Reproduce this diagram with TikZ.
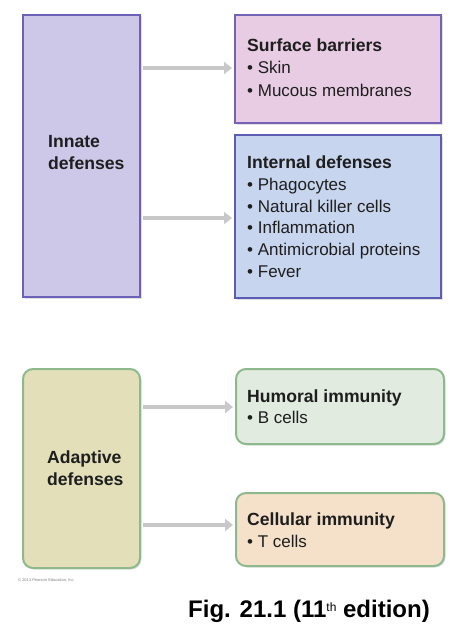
\documentclass[tikz,border=0pt]{standalone}
\usepackage{fontspec}
\setmainfont{Liberation Sans}
\usetikzlibrary{arrows.meta,shadows}
\definecolor{innfill}{HTML}{CDC8E8}
\definecolor{innline}{HTML}{6B62B8}
\definecolor{surffill}{HTML}{E8CCE4}
\definecolor{surfline}{HTML}{7463B4}
\definecolor{intfill}{HTML}{C8D5EE}
\definecolor{intline}{HTML}{5B5CB2}
\definecolor{adfill}{HTML}{E2DFB9}
\definecolor{adline}{HTML}{8DB98D}
\definecolor{humfill}{HTML}{E1EBE0}
\definecolor{celfill}{HTML}{F5E1C9}
\definecolor{arrgray}{HTML}{C8C8C8}
\definecolor{txt}{HTML}{1E1E1E}
\tikzset{
  box/.style={draw, line width=2pt, inner sep=0pt, anchor=north west,
    drop shadow={shadow xshift=1.5pt, shadow yshift=-1.5pt, opacity=.25}},
  rbox/.style={box, rounded corners=10pt},
  lbl/.style={anchor=base west, inner sep=0pt, font=\fontsize{17}{21}\selectfont, text=txt},
  ttl/.style={lbl, font=\fontsize{17.6}{21}\selectfont\bfseries},
  arr/.style={draw=arrgray, line width=4pt, -{Triangle[length=8pt,width=12pt]}}
}
\begin{document}
\begin{tikzpicture}[x=1pt,y=-1pt]
\useasboundingbox (0,0) rectangle (453,626);
% boxes
\node[box, fill=innfill, draw=innline, minimum width=117pt, minimum height=282pt] (innate) at (22,14) {};
\node[box, fill=surffill, draw=surfline, minimum width=206pt, minimum height=108pt] (surf) at (234,14) {};
\node[box, fill=intfill, draw=intline, minimum width=206pt, minimum height=163pt] (int) at (234,134) {};
\node[rbox, fill=adfill, draw=adline, minimum width=117pt, minimum height=199pt] (adapt) at (22,368) {};
\node[rbox, fill=humfill, draw=adline, minimum width=208pt, minimum height=75pt] (hum) at (235,368) {};
\node[rbox, fill=celfill, draw=adline, minimum width=208pt, minimum height=73pt] (cel) at (235,492) {};
% arrow levels
\coordinate (a1) at (0,68);
\coordinate (a2) at (0,218);
\coordinate (a3) at (0,407);
\coordinate (a4) at (0,525);
\draw[arr] ([xshift=2pt]innate.east |- a1) -- ([xshift=-2pt]surf.west |- a1);
\draw[arr] ([xshift=2pt]innate.east |- a2) -- ([xshift=-2pt]int.west |- a2);
\draw[arr] ([xshift=2pt]adapt.east |- a3) -- ([xshift=-2pt]hum.west |- a3);
\draw[arr] ([xshift=2pt]adapt.east |- a4) -- ([xshift=-2pt]cel.west |- a4);
% texts
\node[ttl] (t1) at (48,147) {Innate};
\node[ttl] (t2) at (48,169) {defenses};
\node[ttl] (t3) at (247,52) {Surface barriers};
\node[lbl] (t4) at (247,74) {\textbullet\ Skin};
\node[lbl] (t5) at (247,96) {\textbullet\ Mucous membranes};
\node[ttl] (t6) at (247,168) {Internal defenses};
\node[lbl] (t7) at (247,190) {\textbullet\ Phagocytes};
\node[lbl] (t8) at (247,212) {\textbullet\ Natural killer cells};
\node[lbl] (t9) at (247,233) {\textbullet\ Inflammation};
\node[lbl] (t10) at (247,255) {\textbullet\ Antimicrobial proteins};
\node[lbl] (t11) at (247,277) {\textbullet\ Fever};
\node[ttl] (t12) at (47,463) {Adaptive};
\node[ttl] (t13) at (47,485) {defenses};
\node[ttl] (t14) at (247,402) {Humoral immunity};
\node[lbl] (t15) at (247,423) {\textbullet\ B cells};
\node[ttl] (t16) at (247,525) {Cellular immunity};
\node[lbl] (t17) at (247,547) {\textbullet\ T cells};
\node[anchor=base west, inner sep=0pt, font=\fontsize{4}{5}\selectfont, text=gray] (copy) at (18,581) {\textcopyright\ 2013 Pearson Education, Inc.};
\node[anchor=base east, inner sep=0pt, font=\fontsize{24}{28}\selectfont\bfseries, text=black] (fig) at (430,617) {Fig. 21.1 (11\raisebox{6pt}{\fontsize{12}{12}\selectfont\mdseries th} edition)};
\end{tikzpicture}
\end{document}
